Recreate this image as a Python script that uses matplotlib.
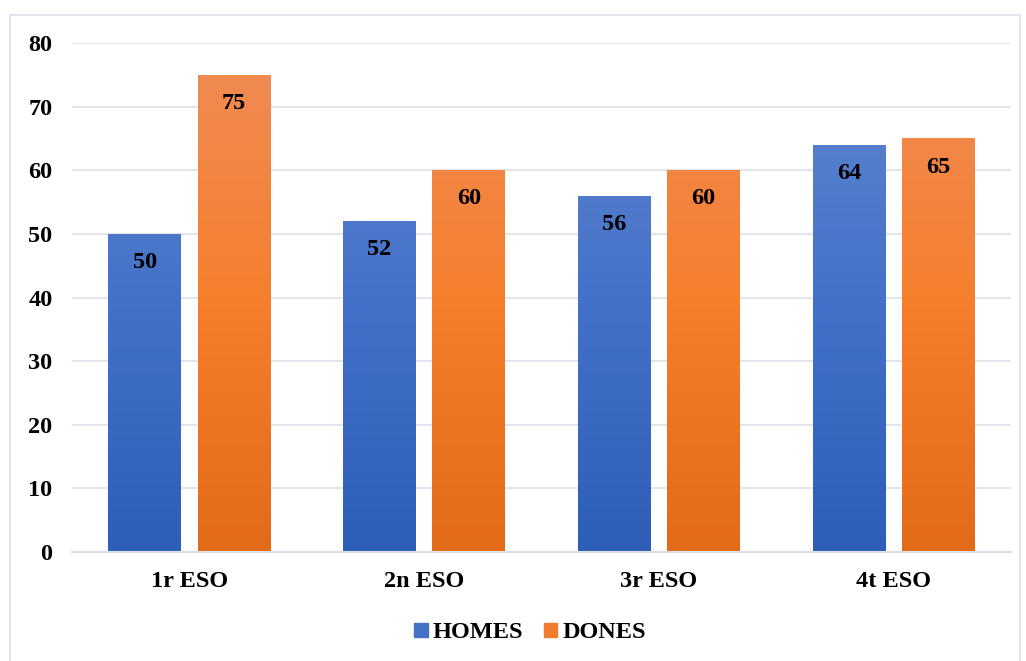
import matplotlib.pyplot as plt
import numpy as np
from matplotlib.colors import LinearSegmentedColormap
from matplotlib.patches import Rectangle

categories = ["1r ESO", "2n ESO", "3r ESO", "4t ESO"]
homes = [50, 52, 56, 64]
dones = [75, 60, 60, 65]
series_names = ["HOMES", "DONES"]

plt.rcParams['font.family'] = ['Liberation Serif', 'DejaVu Serif']
plt.rcParams['font.weight'] = 'bold'

blue_cmap = LinearSegmentedColormap.from_list("blue", ["#2D5EB8", "#4472C9", "#6286CF"])
orange_cmap = LinearSegmentedColormap.from_list("orange", ["#E26A19", "#F57F2D", "#F08C57"])

fig = plt.figure(figsize=(10.26, 6.61), dpi=100)
ax = fig.add_axes([72 / 1026, 1 - 552 / 661, (1011 - 72) / 1026, (552 - 43) / 661])

# outer frame
fig.patches.append(Rectangle((10 / 1026, -0.01), 1010 / 1026, 1 - 15 / 661 + 0.01,
                             transform=fig.transFigure, fill=False,
                             edgecolor="#E2E6EE", linewidth=1.5, zorder=0))

x = np.arange(len(categories))
width = 0.31
offset = 0.19
ymax = 80

grad = np.linspace(0, 1, 256).reshape(-1, 1)


def gradient_bars(xs, vals, cmap):
    bars = ax.bar(xs, vals, width, color="none", edgecolor="none", zorder=2)
    for b in bars:
        im = ax.imshow(grad, cmap=cmap, origin="lower", aspect="auto",
                       extent=[b.get_x(), b.get_x() + b.get_width(), 0, ymax],
                       zorder=2)
        im.set_clip_path(b)
    return bars


b1 = gradient_bars(x - offset, homes, blue_cmap)
b2 = gradient_bars(x + offset, dones, orange_cmap)

for bars, vals in [(b1, homes), (b2, dones)]:
    for b, v in zip(bars, vals):
        ax.text(b.get_x() + b.get_width() / 2, v - 4.5, str(v), ha="center", va="center",
                fontsize=17.5, fontweight="bold", color="black", zorder=3)

ax.set_xlim(-0.5, 3.5)
ax.set_ylim(0, ymax)
ax.set_yticks(range(0, 81, 10))
ax.set_xticks(x)
ax.set_xticklabels(categories)
ax.grid(axis="y", color="#E2E5EC", linewidth=1.5, zorder=0)
ax.set_axisbelow(True)
for s in ["top", "right", "left"]:
    ax.spines[s].set_visible(False)
ax.spines["bottom"].set_color("#DCDFE6")
ax.spines["bottom"].set_linewidth(1.5)
ax.tick_params(axis="both", length=0, labelsize=17.5)
ax.tick_params(axis="y", pad=14)
ax.tick_params(axis="x", pad=14)

handles = [Rectangle((0, 0), 1, 1, color="#4472C4"), Rectangle((0, 0), 1, 1, color="#F07D2E")]
fig.legend(handles, series_names, loc="center", bbox_to_anchor=(1 - 496 / 1026, 1 - 633 / 661),
           ncol=2, frameon=False, fontsize=17.5, handlelength=0.55, handleheight=0.55,
           handletextpad=0.2, columnspacing=0.85)

fig.savefig("out.png", dpi=100)
